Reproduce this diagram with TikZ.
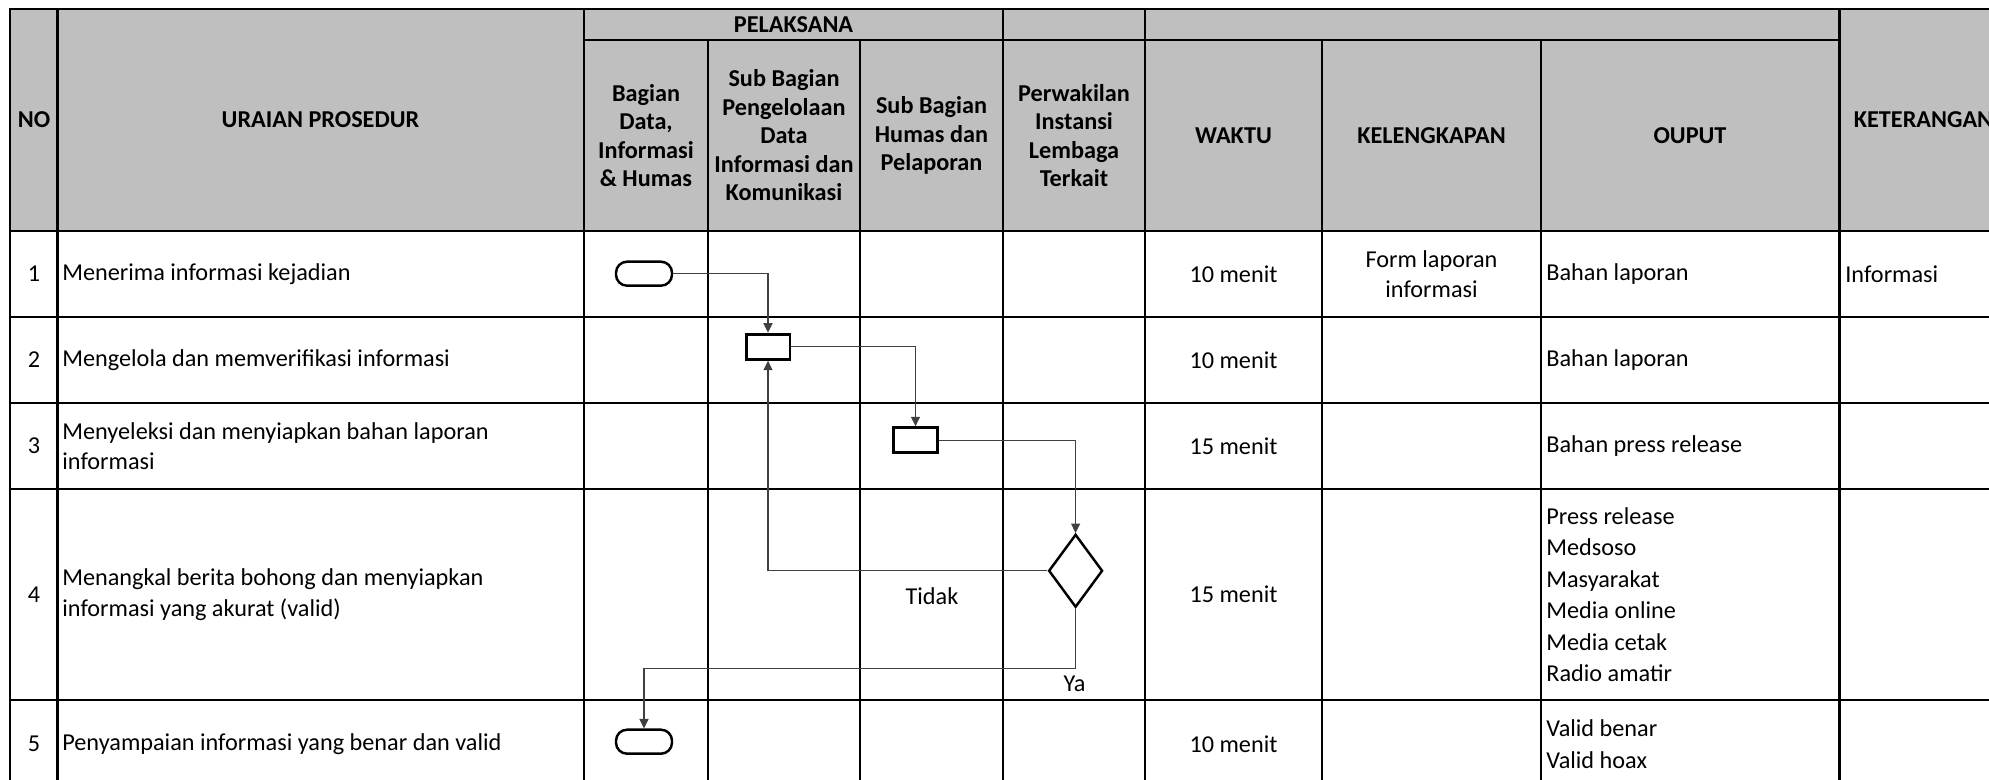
\documentclass[tikz,border=0pt]{standalone}
\usepackage{fontspec}
\setmainfont{Carlito}
\usepackage{xcolor}
\usepackage{tikz}
\usetikzlibrary{shapes.geometric, arrows.meta, positioning, calc}
\definecolor{hdrgray}{HTML}{BFBFBF}
\tikzset{
  gridline/.style = {line width=1.4pt, line cap=rect},
  head/.style = {align=center, inner sep=0pt,
    font=\fontsize{13.8}{16.2}\selectfont\bfseries},
  cell/.style = {align=center, inner sep=0pt},
  lcell/.style = {align=left, anchor=west, inner sep=0pt},
  term/.style = {rectangle, draw, line width=1.4pt, rounded corners=0.22cm,
    minimum width=1.12cm, minimum height=0.48cm, inner sep=0pt},
  proc/.style = {rectangle, draw, line width=1.7pt,
    minimum width=0.88cm, minimum height=0.5cm, inner sep=0pt},
  decide/.style = {diamond, draw, line width=1.4pt,
    minimum width=1.08cm, minimum height=1.46cm, inner sep=0pt},
  arrow/.style = {draw=black!75, line width=0.7pt,
    -{Triangle[length=0.19cm, width=0.18cm]}},
}

\begin{document}
\begin{tikzpicture}[x=0.02cm, y=-0.02cm, font=\fontsize{13.8}{17.4}\selectfont]
  \useasboundingbox (0,0) rectangle (1989,780);
  \clip (0,0) rectangle (1989,780);

  % Header background
  \fill[hdrgray] (10,9) rectangle (2008,231);

  % Table grid
  \draw[gridline] (10,9) -- (2008,9);
  \draw[gridline] (584,40) -- (1839.5,40);
  \draw[gridline] (10,231) -- (2008,231);
  \draw[gridline] (10,317) -- (2008,317);
  \draw[gridline] (10,403) -- (2008,403);
  \draw[gridline] (10,489) -- (2008,489);
  \draw[gridline] (10,700) -- (2008,700);
  \draw[gridline] (10,9) -- (10,790);
  \draw[gridline] (57.5,9) -- (57.5,790);
  \draw[gridline] (584,9) -- (584,790);
  \draw[gridline] (708,40) -- (708,790);
  \draw[gridline] (860,40) -- (860,790);
  \draw[gridline] (1003,9) -- (1003,790);
  \draw[gridline] (1145,9) -- (1145,790);
  \draw[gridline] (1322,40) -- (1322,790);
  \draw[gridline] (1541,40) -- (1541,790);
  \draw[gridline] (1839.5,9) -- (1839.5,790);

  % Header texts
  \node[head] (hNo) at (34,120) {NO};
  \node[head] (hUraian) at (320.5,120) {URAIAN PROSEDUR};
  \node[head] (hPelaksana) at (793.5,24.5) {PELAKSANA};
  \node[head] (hBagian) at (646,135.5) {Bagian\\Data,\\Informasi\\\& Humas};
  \node[head] (hSubPeng) at (784,135.5) {Sub Bagian\\Pengelolaan\\Data\\Informasi dan\\Komunikasi};
  \node[head] (hSubHumas) at (931.5,135.5) {Sub Bagian\\Humas dan\\Pelaporan};
  \node[head] (hPerwakilan) at (1074,135.5) {Perwakilan\\Instansi\\Lembaga\\Terkait};
  \node[head] (hWaktu) at (1233.5,135.5) {WAKTU};
  \node[head] (hKelengkapan) at (1431.5,135.5) {KELENGKAPAN};
  \node[head] (hOuput) at (1690,135.5) {OUPUT};
  \node[head] (hKet) at (1923.5,120) {KETERANGAN};

  % Row 1
  \node[cell] (no1) at (34,274) {1};
  \node[lcell] (step1) at (62,274) {Menerima informasi kejadian};
  \node[cell] (wkt1) at (1233.5,274) {10 menit};
  \node[cell] (klg1) at (1431.5,274) {Form laporan\\informasi};
  \node[lcell] (out1) at (1546,274) {Bahan laporan};
  \node[lcell] (ket1) at (1845,274) {Informasi};

  % Row 2
  \node[cell] (no2) at (34,360) {2};
  \node[lcell] (step2) at (62,360) {Mengelola dan memverifikasi informasi};
  \node[cell] (wkt2) at (1233.5,360) {10 menit};
  \node[lcell] (out2) at (1546,360) {Bahan laporan};

  % Row 3
  \node[cell] (no3) at (34,446) {3};
  \node[lcell] (step3) at (62,446) {Menyeleksi dan menyiapkan bahan laporan\\informasi};
  \node[cell] (wkt3) at (1233.5,446) {15 menit};
  \node[lcell] (out3) at (1546,446) {Bahan press release};

  % Row 4
  \node[cell] (no4) at (34,594.5) {4};
  \node[lcell] (step4) at (62,594.5) {Menangkal berita bohong dan menyiapkan\\informasi yang akurat (valid)};
  \node[cell] (wkt4) at (1233.5,594.5) {15 menit};
  \node[lcell, font=\fontsize{13.8}{17.9}\selectfont] (out4) at (1546,594.5)
    {Press release\\Medsoso\\Masyarakat\\Media online\\Media cetak\\Radio amatir};

  % Row 5
  \node[cell] (no5) at (34,744) {5};
  \node[lcell] (step5) at (62,744) {Penyampaian informasi yang benar dan valid};
  \node[cell] (wkt5) at (1233.5,744) {10 menit};
  \node[lcell, font=\fontsize{13.8}{17.9}\selectfont] (out5) at (1546,744) {Valid benar\\Valid hoax};

  % Flow shapes
  \node[term] (term1) at (644,273.7) {};
  \node[proc] (proc2) at (768,346.7) {};
  \node[proc] (proc3) at (915.5,440.3) {};
  \node[decide] (dec4) at (1075.6,570.8) {};
  \node[term] (term5) at (644,741.7) {};

  % Flow arrows
  \draw[arrow] (term1.east) -| (proc2.north);
  \draw[arrow] (proc2.east) -| (proc3.north);
  \draw[arrow] (proc3.east) -| (dec4.north);
  \draw[arrow] (dec4.west) -| (proc2.south);
  \draw[arrow] (dec4.south) -- ++(0,60) -| (term5.north);

  % Branch labels
  \node[cell] (tidak) at (932,596) {Tidak};
  \node[cell] (ya) at (1074.5,684.3) {Ya};

\end{tikzpicture}
\end{document}
